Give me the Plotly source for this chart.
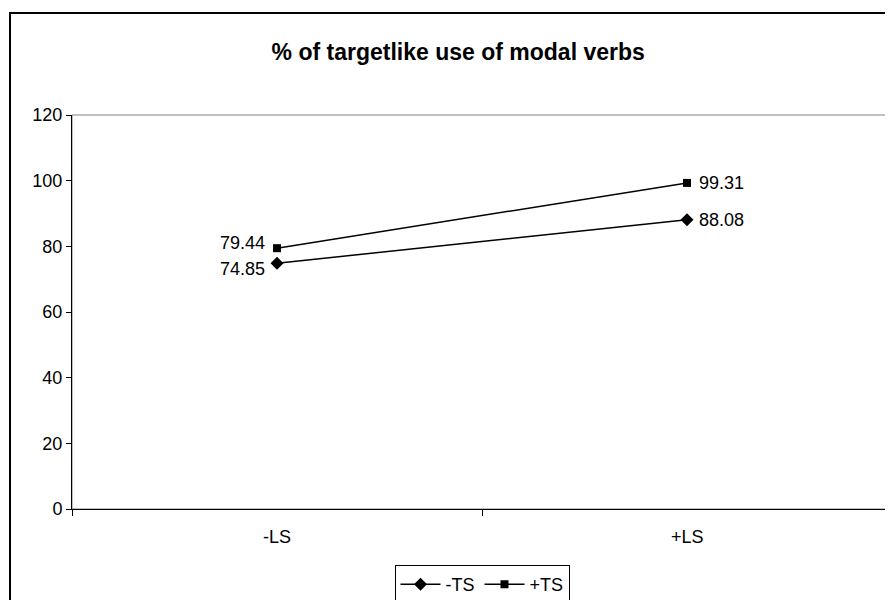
import plotly.graph_objects as go

# data
categories = ["-LS", "+LS"]
minus_ts = [74.85, 88.08]
plus_ts = [79.44, 99.31]
series_names = ["-TS", "+TS"]
title_text = "% of targetlike use of modal verbs"

FONT = "Arial, Liberation Sans, sans-serif"
x_pos = [0.5, 1.5]  # categories sit in the middle of their bands

fig = go.Figure()
fig.add_trace(go.Scatter(
    x=x_pos, y=minus_ts, name=series_names[0], mode="lines+markers",
    line=dict(color="black", width=1.5),
    marker=dict(symbol="diamond", size=10, color="black"),
))
fig.add_trace(go.Scatter(
    x=x_pos, y=plus_ts, name=series_names[1], mode="lines+markers",
    line=dict(color="black", width=1.5),
    marker=dict(symbol="square", size=8, color="black"),
))

# value labels: left point labelled on the left, right point on the right
# (left pair nudged apart so they do not collide)
for vals, dy in ((minus_ts, -6), (plus_ts, 5)):
    fig.add_annotation(x=x_pos[0], y=vals[0], text=f"{vals[0]:.2f}", showarrow=False,
                       xanchor="right", xshift=-10, yshift=dy,
                       font=dict(size=18, color="black", family=FONT))
    fig.add_annotation(x=x_pos[1], y=vals[1], text=f"{vals[1]:.2f}", showarrow=False,
                       xanchor="left", xshift=10,
                       font=dict(size=18, color="black", family=FONT))

# category labels under the axis
for xp, c in zip(x_pos, categories):
    fig.add_annotation(x=xp, y=0, xref="x", yref="y", text=c, showarrow=False,
                       yshift=-28, font=dict(size=18, color="black", family=FONT))

# grey plot-area frame and outer chart border
fig.add_shape(type="rect", xref="paper", yref="paper", x0=0, x1=1, y0=0, y1=1,
              line=dict(color="#808080", width=1), layer="below")
fig.add_shape(type="rect", xref="paper", yref="paper", x0=-0.0756, x1=1.05,
              y0=-0.3, y1=1.2589, line=dict(color="black", width=2))

# page body adds an 8px offset, so the figure is sized 885x592
fig.update_layout(
    width=885, height=592,
    margin=dict(l=64, r=1, t=107, b=91, autoexpand=False),
    paper_bgcolor="white", plot_bgcolor="white",
    font=dict(family=FONT, size=18, color="black"),
    title=dict(text=f"<b>{title_text}</b>", x=0.471, xref="paper",
               y=0.9257, yref="container", xanchor="center", yanchor="middle",
               font=dict(size=23, family=FONT, color="black")),
    showlegend=True,
    legend=dict(orientation="h", x=0.5, xanchor="center", y=-0.142, yanchor="top",
                bordercolor="black", borderwidth=1, bgcolor="white",
                font=dict(size=18, family=FONT), itemwidth=40,
                tracegroupgap=0),
    xaxis=dict(range=[0, 2], tickvals=[0, 1, 2], showticklabels=False,
               ticks="outside", ticklen=6, tickcolor="black",
               showline=True, linecolor="black", linewidth=1,
               showgrid=False, zeroline=False, fixedrange=True),
    yaxis=dict(range=[0, 120], tickvals=[0, 20, 40, 60, 80, 100, 120],
               ticks="outside", ticklen=5, tickcolor="black",
               showline=True, linecolor="black", linewidth=1,
               showgrid=False, zeroline=False, fixedrange=True,
               tickfont=dict(size=18, family=FONT)),
)

fig.write_html("out.html")
